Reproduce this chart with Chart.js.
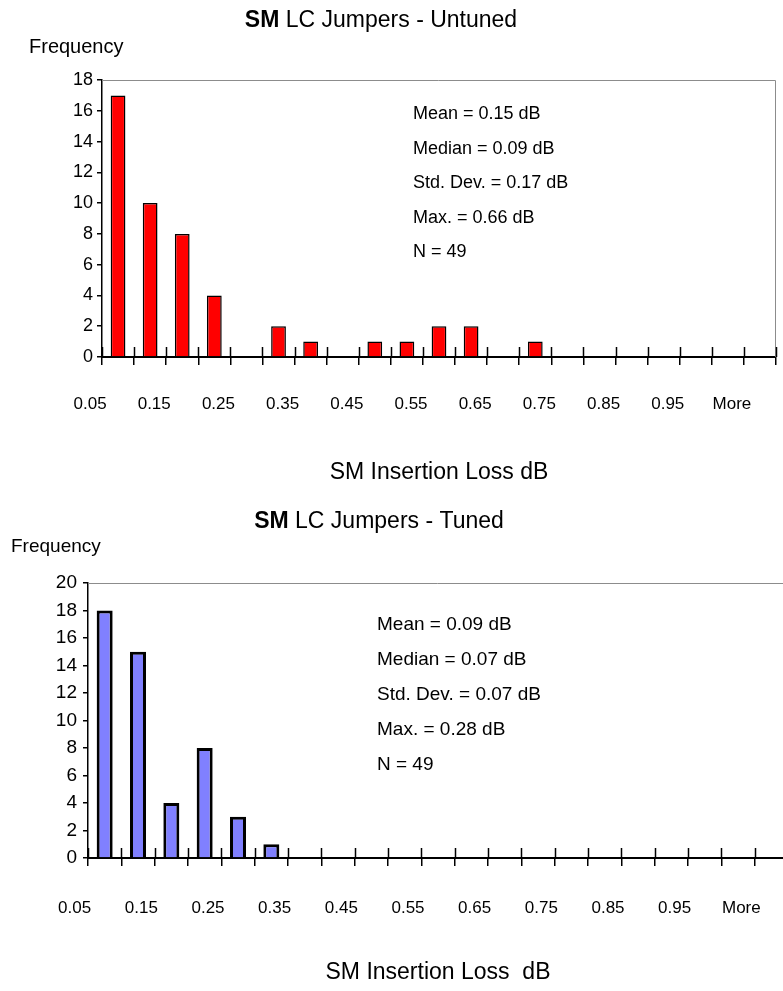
<!DOCTYPE html>
<html>
<head>
<meta charset="utf-8">
<title>SM LC Jumpers</title>
<script src="https://cdn.jsdelivr.net/npm/chart.js@4.4.0/dist/chart.umd.min.js"></script>
<style>
  html, body { margin: 0; padding: 0; background: #fff; overflow: hidden; }
  .box { position: relative; }
  #topBox { width: 783px; height: 495px; }
  #bottomBox { width: 800px; height: 496px; }
</style>
</head>
<body>
<div class="box" id="topBox"><canvas id="untuned"></canvas></div>
<div class="box" id="bottomBox"><canvas id="tuned"></canvas></div>
<script>
// histogram bins (upper edge of each bin, dB)
const bins = ['0.05', '0.10', '0.15', '0.20', '0.25', '0.30', '0.35', '0.40', '0.45', '0.50',
              '0.55', '0.60', '0.65', '0.70', '0.75', '0.80', '0.85', '0.90', '0.95', '1.00', 'More'];

const untunedCounts = [17, 10, 8, 4, 0, 2, 1, 0, 1, 1, 2, 2, 0, 1, 0, 0, 0, 0, 0, 0, 0];
const tunedCounts   = [18, 15, 4, 8, 3, 1, 0, 0, 0, 0, 0, 0, 0, 0, 0, 0, 0, 0, 0, 0, 0];

const untunedYMax = 18;
const tunedYMax = 20;

const untunedStats = ['Mean = 0.15 dB', 'Median = 0.09 dB', 'Std. Dev. = 0.17 dB', 'Max. = 0.66 dB', 'N = 49'];
const tunedStats   = ['Mean = 0.09 dB', 'Median = 0.07 dB', 'Std. Dev. = 0.07 dB', 'Max. = 0.28 dB', 'N = 49'];

const untunedTitle = 'SM LC Jumpers - Untuned';
const tunedTitle = 'SM LC Jumpers - Tuned';
const untunedAxis = 'SM Insertion Loss dB';
const tunedAxis = 'SM Insertion Loss  dB';

const FAMILY = '"Liberation Sans", Arial, Helvetica, sans-serif';
const INK = '#000';
Chart.defaults.font.family = FAMILY;
Chart.defaults.color = INK;

// tick marks that cross the x axis, plus the thin grey frame on top / right
const crossTicks = {
  id: 'crossTicks',
  beforeDatasetsDraw(chart) {
    const a = chart.chartArea, ctx = chart.ctx;
    ctx.save();
    ctx.strokeStyle = '#8c8c8c';
    ctx.lineWidth = 1;
    ctx.beginPath();
    ctx.moveTo(a.left, a.top + 0.5);
    ctx.lineTo(a.right - 0.5, a.top + 0.5);
    ctx.lineTo(a.right - 0.5, a.bottom);
    ctx.stroke();
    ctx.restore();
  },
  afterDatasetsDraw(chart, args, opts) {
    const x = chart.scales.x, y = chart.scales.y, ctx = chart.ctx;
    ctx.save();
    ctx.strokeStyle = '#000';
    ctx.lineWidth = opts.width;
    ctx.beginPath();
    for (let i = 0; i <= bins.length; i++) {
      const px = Math.round(x.getPixelForValue(i - 0.5)) + 0.5;
      ctx.moveTo(px, y.bottom);
      ctx.lineTo(px, y.bottom - opts.up);
    }
    ctx.stroke();
    ctx.restore();
  }
};

// chart title (first word bold), the "Frequency" caption and the stats block
const notes = {
  id: 'notes',
  afterDraw(chart, args, o) {
    const ctx = chart.ctx;
    ctx.save();
    ctx.fillStyle = INK;
    ctx.textBaseline = 'alphabetic';
    ctx.textAlign = 'left';

    const words = o.title.split(' ');
    const head = words[0], rest = ' ' + words.slice(1).join(' ');
    ctx.font = 'bold ' + o.titleSize + 'px ' + FAMILY;
    const w1 = ctx.measureText(head).width;
    ctx.font = o.titleSize + 'px ' + FAMILY;
    const w2 = ctx.measureText(rest).width;
    let tx = o.titleX - (w1 + w2) / 2;
    ctx.font = 'bold ' + o.titleSize + 'px ' + FAMILY;
    ctx.fillText(head, tx, o.titleY);
    ctx.font = o.titleSize + 'px ' + FAMILY;
    ctx.fillText(rest, tx + w1, o.titleY);

    ctx.font = o.freqSize + 'px ' + FAMILY;
    ctx.fillText('Frequency', o.freqX, o.freqY);

    ctx.font = o.statSize + 'px ' + FAMILY;
    o.stats.forEach((s, i) => {
      ctx.fillText(s, o.statX, o.statY + i * o.statGap);
    });
    ctx.restore();
  }
};

function histogram(id, counts, color, yMax, stats, title, axisTitle, look) {
  return new Chart(document.getElementById(id), {
    type: 'bar',
    data: {
      labels: bins,
      datasets: [{
        data: counts,
        backgroundColor: color,
        borderColor: '#000',
        borderWidth: look.barBorder,
        barPercentage: look.barPct,
        categoryPercentage: 1
      }]
    },
    options: {
      responsive: true,
      maintainAspectRatio: false,
      animation: false,
      layout: { padding: { top: look.areaTop, right: look.padRight, left: 0, bottom: 0 } },
      plugins: {
        legend: { display: false },
        tooltip: { enabled: false },
        crossTicks: { width: 1.5, up: 10 },
        notes: {
          title: title, titleSize: 23, titleX: look.titleX, titleY: look.titleY,
          freqSize: look.freqSize, freqX: look.freqX, freqY: look.freqY,
          stats: stats, statSize: look.statSize, statX: look.statX, statY: look.statY, statGap: look.statGap
        }
      },
      scales: {
        x: {
          grid: { drawOnChartArea: false, tickLength: 8, color: '#000', lineWidth: 1.5 },
          border: { color: '#000', width: 2 },
          ticks: {
            autoSkip: false,
            maxRotation: 0,
            labelOffset: look.labelOffset,
            padding: look.labelPad,
            font: { size: 17 },
            callback: (v, i) => (i % 2 === 0 ? bins[i] : '')
          },
          title: { display: true, text: axisTitle, font: { size: 23 }, padding: { top: 0, bottom: look.axisTitlePad } },
          afterFit: s => { s.height = look.xHeight; s.paddingLeft = 0; s.paddingRight = 0; }
        },
        y: {
          min: 0,
          max: yMax,
          ticks: { stepSize: 2, padding: look.yPad, font: { size: look.ySize } },
          grid: { drawOnChartArea: false, tickLength: 5, color: '#000', lineWidth: 1.5 },
          border: { color: '#000', width: 1.5 },
          afterFit: s => { s.width = look.yWidth; }
        }
      }
    },
    plugins: [crossTicks, notes]
  });
}

histogram('untuned', untunedCounts, '#ff0000', untunedYMax, untunedStats, untunedTitle, untunedAxis, {
  barBorder: 1.5, barPct: 0.46, areaTop: 80, padRight: 7, xHeight: 138, yWidth: 102,
  labelOffset: -28, labelPad: 29, axisTitlePad: 9, yPad: 4, ySize: 18,
  titleX: 381, titleY: 27, freqSize: 20, freqX: 29, freqY: 53,
  statSize: 18, statX: 413, statY: 119, statGap: 34.5
});

histogram('tuned', tunedCounts, '#8080ff', tunedYMax, tunedStats, tunedTitle, tunedAxis, {
  barBorder: 3, barPct: 0.48, areaTop: 88, padRight: 12, xHeight: 133, yWidth: 88,
  labelOffset: -30, labelPad: 32, axisTitlePad: 5, yPad: 6, ySize: 19,
  titleX: 379, titleY: 33, freqSize: 19, freqX: 11, freqY: 57,
  statSize: 19, statX: 377, statY: 135, statGap: 35
});
</script>
</body>
</html>
